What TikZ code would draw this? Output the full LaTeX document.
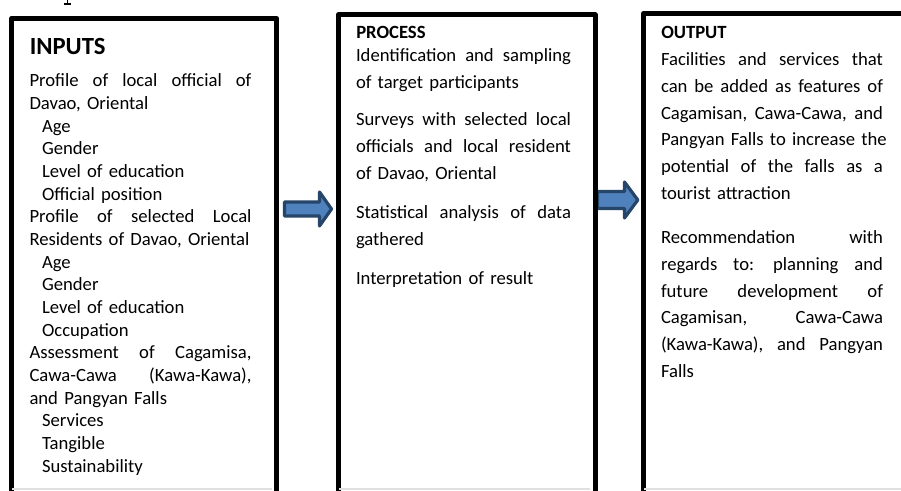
\documentclass[tikz,border=0pt]{standalone}
\usepackage{fontspec}
\setmainfont{Carlito}
\definecolor{arrfill}{HTML}{4F81BD}
\definecolor{arrline}{HTML}{274469}
\newcommand\J[2][166.5pt]{\leavevmode\hbox to #1{#2}}
\newcommand\Ind[1]{\hspace*{9.4pt}#1}
\begin{document}
\begin{tikzpicture}[x=0.75pt,y=-0.75pt,
  boxframe/.style={draw=black, line width=3.75pt, line join=round, inner sep=0pt, anchor=north west},
  body/.style={anchor=base west, inner sep=0pt, outer sep=0pt, align=left},
  inbody/.style={body, text width=166.5pt, font=\fontsize{14pt}{17pt}\selectfont},
  prbody/.style={body, text width=161.25pt, font=\fontsize{14pt}{20pt}\selectfont},
  outbody/.style={body, text width=166.5pt, font=\fontsize{14pt}{20pt}\selectfont},
  head/.style={anchor=base west, inner sep=0pt, font=\bfseries\fontsize{14pt}{17pt}\selectfont},
  blockarrow/.style={fill=arrfill, draw=arrline, line width=2.4pt, line join=round}]
\useasboundingbox (0,0) rectangle (901,491);
\begin{scope}
\clip (0,0) rectangle (901,491);
% cut-off fragment of a letter above the boxes
\draw[line width=1.1pt] (67.3,0) -- (67.3,3.6) (64.2,3.9) -- (70.6,3.9);
% arrows
\coordinate (a1) at (284.5,209);
\draw[blockarrow] (a1) ++(0,-7) -- ++(35,0) -- ++(0,-10) -- ++(12,17) -- ++(-12,17) -- ++(0,-10) -- ++(-35,0) -- cycle;
\coordinate (a2) at (597.5,200);
\draw[blockarrow] (a2) ++(0,-8.5) -- ++(27,0) -- ++(0,-9.5) -- ++(13.3,18) -- ++(-13.3,18) -- ++(0,-9.5) -- ++(-27,0) -- cycle;
% boxes
\node (inbox) [boxframe, minimum width=198.75pt, minimum height=390pt] at (9.3,15.8) {};
\node (prbox) [boxframe, minimum width=192.2pt, minimum height=390pt] at (336.3,12.2) {};
\node (outbox) [boxframe, minimum width=240pt, minimum height=390pt] at (641,11) {};
% faint bottom line
\draw[black!12, line width=1.2pt] (12,489) -- (272,489) (339,489) -- (590,489) (644,489) -- (901,489);
% inputs
\node (inhead) [head, font=\bfseries\fontsize{18.5pt}{20pt}\selectfont] at (29.5,55) {INPUTS};
\node (intxt) [inbody] at (29.5,87) {\J{Profile \hfill of \hfill local \hfill official \hfill of}\\
Davao, Oriental\\
\Ind{Age}\\
\Ind{Gender}\\
\Ind{Level of education}\\
\Ind{Official position}\\
\J{Profile \hfill of \hfill selected \hfill Local}\\
Residents of Davao, Oriental\\
\Ind{Age}\\
\Ind{Gender}\\
\Ind{Level of education}\\
\Ind{Occupation}\\
\J{Assessment \hfill of \hfill Cagamisa,}\\
\J{Cawa-Cawa \hfill (Kawa-Kawa),}\\
and Pangyan Falls\\
\Ind{Services}\\
\Ind{Tangible}\\
\Ind{Sustainability}};
% process
\node (prhead) [head] at (356,39) {PROCESS};
\node (pr1) [prbody] at (356,62) {\J[161.25pt]{Identification \hfill and \hfill sampling}\\of target participants};
\node (pr2) [prbody] at (356,126) {\J[161.25pt]{Surveys \hfill with \hfill selected \hfill local}\\\J[161.25pt]{officials \hfill and \hfill local \hfill resident}\\of Davao, Oriental};
\node (pr3) [prbody] at (356,219) {\J[161.25pt]{Statistical \hfill analysis \hfill of \hfill data}\\gathered};
\node (pr4) [prbody] at (356,285) {Interpretation of result};
% output
\node (outhead) [head] at (661,39) {OUTPUT};
\node (out1) [outbody] at (661,66) {\J{Facilities \hfill and \hfill services \hfill that}\\\J{can \hfill be \hfill added \hfill as \hfill features \hfill of}\\\J{Cagamisan, \hfill Cawa-Cawa, \hfill and}\\\J{Pangyan \hfill Falls \hfill to \hfill increase \hfill the}\\\J{potential \hfill of \hfill the \hfill falls \hfill as \hfill a}\\tourist attraction};
\node (out2) [outbody] at (661,244) {\J{Recommendation \hfill with}\\\J{regards \hfill to: \hfill planning \hfill and}\\\J{future \hfill development \hfill of}\\\J{Cagamisan, \hfill Cawa-Cawa}\\\J{(Kawa-Kawa), \hfill and \hfill Pangyan}\\Falls};
\end{scope}
\end{tikzpicture}
\end{document}
